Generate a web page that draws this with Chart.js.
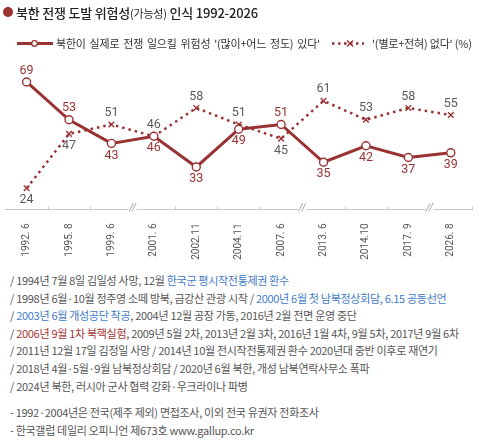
<!DOCTYPE html>
<html>
<head>
<meta charset="utf-8">
<script src="https://cdn.jsdelivr.net/npm/chart.js@4"></script>
<style>
  body { margin: 0; background: #fff; font-family: "Noto Sans CJK KR", "Noto Sans", sans-serif; }
  #wrap { position: relative; width: 494px; height: 442px; overflow: hidden; }
  #chart { position: absolute; left: 0; top: 0; }
  .title { position: absolute; left: 16px; top: 3px; font-size: 13px; font-weight: 500; color: #222; letter-spacing: -0.2px; }
  .title small { font-size: 11px; font-weight: normal; }
  .dot { position: absolute; left: 3px; top: 7px; width: 10px; height: 10px; border-radius: 50%; background: #9c3232; }
  .legend { position: absolute; top: 35px; font-size: 11px; color: #333; white-space: nowrap; letter-spacing: -0.2px; }
  .notes { position: absolute; left: 10px; top: 272px; font-size: 11px; line-height: 17.6px; color: #555; white-space: nowrap; letter-spacing: -0.3px; }
  .b { color: #3f7bc6; }
  .r { color: #a33434; }
</style>
</head>
<body>
<div id="wrap">
  <canvas id="chart" width="494" height="262"></canvas>
  <div class="dot"></div>
  <div class="title">북한 전쟁 도발 위험성<small>(가능성)</small> 인식 1992-2026</div>
  <div class="legend" style="left:56px; word-spacing:1.6px">북한이 실제로 전쟁 일으킬 위험성 '(많이+어느 정도) 있다'</div>
  <div class="legend" style="left:372px">'(별로+전혀) 없다' (%)</div>
  <div class="notes">
    / 1994년 7월 8일 김일성 사망, 12월 <span class="b">한국군 평시작전통제권 환수</span><br>
    / 1998년 6월·10월 정주영 소떼 방북, 금강산 관광 시작 / <span class="b">2000년 6월 첫 남북정상회담, 6.15 공동선언</span><br>
    / <span class="b">2003년 6월 개성공단 착공</span>, 2004년 12월 공장 가동, 2016년 2월 전면 운영 중단<br>
    / <span class="r">2006년 9월 1차 북핵실험</span>, 2009년 5월 2차, 2013년 2월 3차, 2016년 1월 4차, 9월 5차, 2017년 9월 6차<br>
    / 2011년 12월 17일 김정일 사망 / 2014년 10월 전시작전통제권 환수 2020년대 중반 이후로 재연기<br>
    / 2018년 4월·5월·9월 남북정상회담 / 2020년 6월 북한, 개성 남북연락사무소 폭파<br>
    / 2024년 북한, 러시아 군사 협력 강화·우크라이나 파병<br>
    <div style="height:9px"></div>
    - 1992·2004년은 전국(제주 제외) 면접조사, 이외 전국 유권자 전화조사<br>
    - 한국갤럽 데일리 오피니언 제673호 www.gallup.co.kr
  </div>
</div>
<script>
// Data
const labels = ['1992. 6', '1995. 8', '1999. 6', '2001. 6', '2002.11', '2004.11', '2007. 6', '2013. 6', '2014.10', '2017. 9', '2026. 8'];
const riskYes = [69, 53, 43, 46, 33, 49, 51, 35, 42, 37, 39];
const riskNo = [24, 47, 51, 46, 58, 51, 45, 61, 53, 58, 55];
// where each value label sits relative to its point
const riskYesLabelPos = ['top', 'top', 'bottom', 'bottom', 'bottom', 'bottom', 'top', 'bottom', 'bottom', 'bottom', 'bottom'];
const riskNoLabelPos = ['bottom', 'bottom', 'top', 'top', 'top', 'top', 'bottom', 'top', 'top', 'top', 'top'];
// axis breaks after these category indexes
const breakAfter = [2, 6, 9];

const RED = '#993333';

// Legend samples drawn on the canvas
const legendSamples = {
    id: 'legendSamples',
    afterDraw(chart) {
        const ctx = chart.ctx;
        ctx.save();
        ctx.strokeStyle = RED;
        ctx.lineWidth = 3;
        ctx.beginPath(); ctx.moveTo(17, 43.5); ctx.lineTo(53, 43.5); ctx.stroke();
        ctx.fillStyle = '#fff'; ctx.lineWidth = 1.3;
        ctx.beginPath(); ctx.arc(34.5, 43.5, 2.8, 0, Math.PI * 2); ctx.fill(); ctx.stroke();
        ctx.lineWidth = 2.5; ctx.setLineDash([2.5, 3.5]);
        ctx.beginPath(); ctx.moveTo(332, 43.5); ctx.lineTo(364, 43.5); ctx.stroke();
        ctx.setLineDash([]); ctx.lineWidth = 1.3;
        ctx.beginPath();
        ctx.moveTo(347, 40.5); ctx.lineTo(353, 46.5);
        ctx.moveTo(353, 40.5); ctx.lineTo(347, 46.5); ctx.stroke();
        ctx.restore();
    }
};

// Ticks between categories and the // break marks
const axisMarks = {
    id: 'axisMarks',
    afterDraw(chart) {
        const x = chart.scales.x;
        const ctx = chart.ctx;
        const y0 = x.top;
        ctx.save();
        ctx.strokeStyle = '#c8c8c8';
        ctx.lineWidth = 1;
        for (let i = 0; i < labels.length; i++) {
            const bx = i < labels.length - 1
                ? (x.getPixelForValue(i) + x.getPixelForValue(i + 1)) / 2
                : x.right;
            if (breakAfter.includes(i)) {
                ctx.font = 'italic 10px Roboto';
                ctx.textAlign = 'center';
                ctx.textBaseline = 'middle';
                ctx.fillStyle = '#fff';
                ctx.fillRect(bx - 4, y0 - 2, 8, 4);
                ctx.fillStyle = '#999';
                ctx.fillText('//', bx, y0 - 1);
            } else {
                ctx.beginPath();
                ctx.moveTo(Math.round(bx) + 0.5, y0 - 3);
                ctx.lineTo(Math.round(bx) + 0.5, y0);
                ctx.stroke();
            }
        }
        ctx.restore();
    }
};

// Value labels
const valueLabels = {
    id: 'valueLabels',
    afterDatasetsDraw(chart) {
        const ctx = chart.ctx;
        ctx.save();
        ctx.font = '12.5px Roboto';
        ctx.textAlign = 'center';
        ctx.textBaseline = 'middle';
        chart.data.datasets.forEach((ds, di) => {
            const meta = chart.getDatasetMeta(di);
            const pos = di === 0 ? riskYesLabelPos : riskNoLabelPos;
            ctx.fillStyle = di === 0 ? RED : '#5a5a5a';
            meta.data.forEach((pt, i) => {
                const dy = pos[i] === 'top' ? -11.5 : 12;
                ctx.fillText(ds.data[i], pt.x, pt.y + dy);
            });
        });
        ctx.restore();
    }
};

new Chart(document.getElementById('chart'), {
    type: 'line',
    data: {
        labels: labels,
        datasets: [{
            label: "북한이 실제로 전쟁 일으킬 위험성 '(많이+어느 정도) 있다'",
            data: riskYes,
            borderColor: RED,
            borderWidth: 3,
            pointStyle: 'circle',
            pointRadius: 4,
            pointBorderWidth: 1.4,
            pointBackgroundColor: '#fff',
            pointBorderColor: RED,
            tension: 0
        }, {
            label: "'(별로+전혀) 없다' (%)",
            data: riskNo,
            borderColor: RED,
            borderWidth: 2.5,
            borderDash: [2.5, 4],
            pointStyle: 'crossRot',
            pointRadius: 4,
            pointBorderWidth: 1.4,
            pointBorderColor: RED,
            tension: 0
        }]
    },
    options: {
        responsive: false,
        animation: false,
        layout: { padding: { top: 56, left: 0, right: 22, bottom: 0 } },
        plugins: { legend: { display: false }, tooltip: { enabled: false } },
        scales: {
            y: { display: false, min: 15, max: 80 },
            x: {
                offset: true,
                grid: { display: false },
                border: { display: true, color: '#c8c8c8' },
                ticks: {
                    minRotation: 90,
                    maxRotation: 90,
                    padding: 6,
                    color: '#555',
                    font: { family: 'Roboto', size: 10 }
                },
                afterFit(scale) { scale.height = 52.5; }
            }
        }
    },
    plugins: [valueLabels, axisMarks, legendSamples]
});
</script>
</body>
</html>
